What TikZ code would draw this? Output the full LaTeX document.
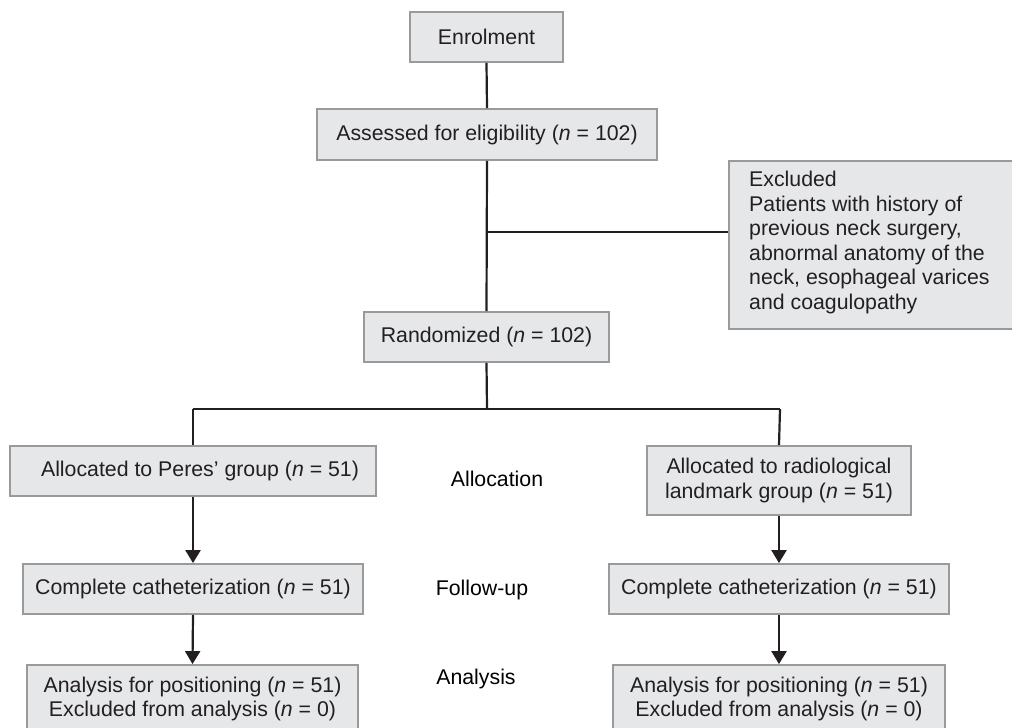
\documentclass[tikz,border=0pt]{standalone}
\usepackage{fontspec}
\setmainfont{Liberation Sans}
\usetikzlibrary{arrows.meta}
\definecolor{boxfill}{HTML}{E6E7E9}
\definecolor{boxline}{HTML}{9A9A9A}
\definecolor{ink}{HTML}{231F20}
\begin{document}
\begin{tikzpicture}[x=1pt,y=-1pt,
  box/.style={draw=boxline,fill=boxfill,line width=1.8pt,inner sep=0pt,align=center,
    font=\fontsize{21.3}{24.5}\selectfont,text=ink},
  conn/.style={draw=ink,line width=2.2pt},
  arr/.style={conn,-{Triangle[width=15pt,length=13pt]}},
  lab/.style={font=\fontsize{21.3}{24.5}\selectfont,text=black,inner sep=0pt}]
\useasboundingbox (0,0) rectangle (1012,728);
\node[box,minimum width=153pt,minimum height=50pt] (enrol) at (486.5,37) {Enrolment};
\node[box,minimum width=340pt,minimum height=51pt] (assess) at (487,134.5) {Assessed for eligibility (\textit{n} = 102)};
\node[box,minimum width=300pt,minimum height=168pt,anchor=north west] (excl) at (728,160) {};
\node[lab,anchor=north west,align=left,text=ink] (excltext) at (749,171) {Excluded\\Patients with history of\\previous neck surgery,\\abnormal anatomy of the\\neck, esophageal varices\\and coagulopathy};
\node[box,minimum width=245pt,minimum height=50pt] (rand) at (486.5,337) {Randomized (\textit{n} = 102)};
\node[box,minimum width=366pt,minimum height=50pt] (allocL) at (193,471) {\hspace*{14pt}Allocated to Peres’ group (\textit{n} = 51)};
\node[box,minimum width=264pt,minimum height=69pt] (allocR) at (779,480.5) {Allocated to radiological\\landmark group (\textit{n} = 51)};
\node[box,minimum width=340pt,minimum height=50pt] (compL) at (193,589) {Complete catheterization (\textit{n} = 51)};
\node[box,minimum width=340pt,minimum height=50pt] (compR) at (779,589) {Complete catheterization (\textit{n} = 51)};
\node[box,minimum width=331pt,minimum height=68pt] (anL) at (192.5,699) {Analysis for positioning (\textit{n} = 51)\\Excluded from analysis (\textit{n} = 0)};
\node[box,minimum width=332pt,minimum height=68pt] (anR) at (779,699) {Analysis for positioning (\textit{n} = 51)\\Excluded from analysis (\textit{n} = 0)};
\node[lab] (lalloc) at (497,479) {Allocation};
\node[lab] (lfollow) at (482,590) {Follow-up};
\node[lab] (lanal) at (476,679) {Analysis};
\coordinate (ej) at (487,232);
\coordinate (bm) at (487,409);
\coordinate (bl) at (193,409);
\coordinate (br) at (780,409);
\draw[conn] (enrol.south) -- (assess.north);
\draw[conn] (assess.south) -- (rand.north);
\draw[conn] (ej) -- (ej -| excl.west);
\draw[conn] (rand.south) -- (bm);
\draw[conn] (bl) -- (br);
\draw[conn] (bl) -- (allocL.north);
\draw[conn] (br) -- (allocR.north);
\draw[arr] (allocL.south) -- (compL.north);
\draw[arr] (allocR.south) -- (compR.north);
\draw[arr] (compL.south) -- (anL.north);
\draw[arr] (compR.south) -- (anR.north);
\end{tikzpicture}
\end{document}
